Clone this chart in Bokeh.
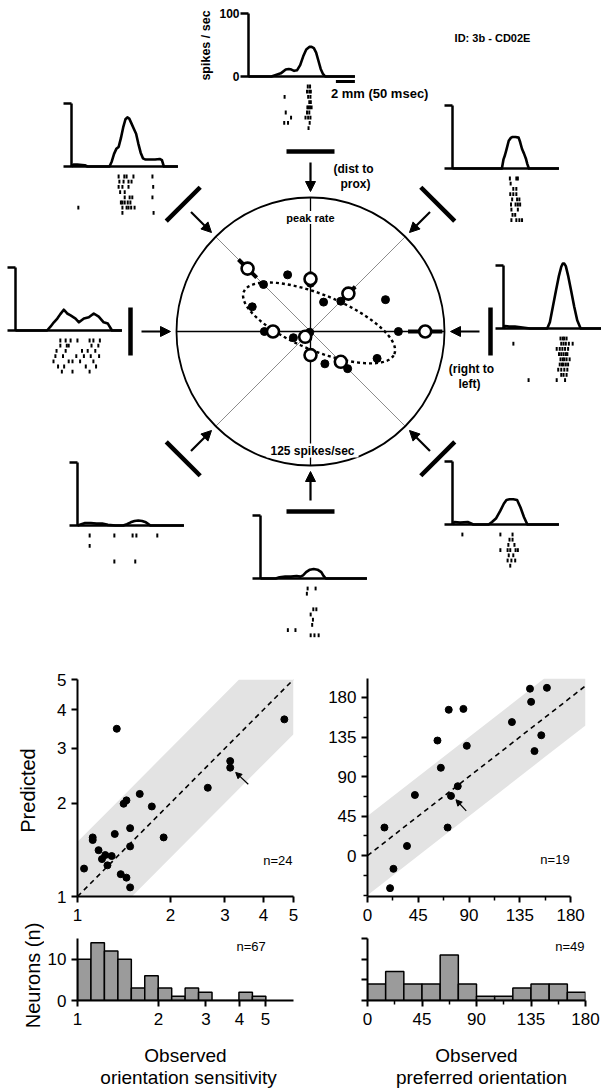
import math
from bokeh.plotting import figure
from bokeh.models import (Range1d, ColumnDataSource, Arrow, NormalHead, Label,
                          FixedTicker, PrintfTickFormatter)
from bokeh.layouts import column, row
from bokeh.embed import file_html
from bokeh.resources import INLINE
from bokeh.core.properties import value

FONT = "Liberation Sans"

# ======================= DATA =======================
# PSTHs (time after onset in ms, rate in spikes/sec) for the 8 stimulus directions
t_top = [0, 60, 70, 85, 98, 106, 113, 120, 128, 136, 144, 152, 160, 166, 172, 178, 184, 190, 196, 202, 280]
r_top = [0, 0, 2, 5, 11, 12, 11, 9, 10, 18, 32, 43, 47, 47, 45, 38, 25, 12, 4, 0, 0]
t_ur = [0, 130, 134, 138, 142, 148, 154, 158, 166, 174, 178, 183, 188, 193, 197, 201, 280]
r_ur = [0, 0, 14, 21, 30, 44, 49, 50, 50, 49, 42, 31, 24, 16, 7, 0, 0]
t_r = [0, 4, 15, 30, 45, 70, 115, 122, 130, 138, 146, 152, 156, 160, 164, 170, 178, 186, 194, 203, 280]
r_r = [0, 4, 3, 3, 2, 0, 0, 10, 35, 60, 84, 98, 103, 103, 99, 84, 60, 35, 13, 0, 0]
t_lr = [0, 5, 20, 40, 55, 95, 104, 115, 126, 135, 142, 150, 160, 170, 179, 188, 197, 280]
r_lr = [0, 4, 3, 4, 0, 0, 4, 10, 22, 33, 39, 40, 40, 39, 27, 12, 0, 0]
t_b = [0, 40, 50, 65, 80, 95, 105, 112, 120, 130, 140, 150, 160, 166, 172, 280]
r_b = [0, 0, 2, 3, 3, 4, 3, 5, 10, 14, 15, 14, 10, 4, 0, 0]
t_ll = [0, 10, 20, 35, 50, 65, 80, 100, 120, 130, 140, 150, 160, 170, 180, 192, 280]
r_ll = [0, 2, 4, 4, 3, 3, 1, 0, 0, 2, 5, 7, 8, 7, 5, 0, 0]
t_l = [0, 83, 92, 101, 110, 118, 127, 136, 145, 158, 167, 180, 193, 206, 219, 232, 243, 254, 280]
r_l = [0, 0, 6, 13, 19, 26, 33, 27, 24, 19, 13, 19, 21, 27, 22, 13, 11, 0, 0]
t_ul = [0, 5, 15, 35, 42, 100, 106, 112, 118, 124, 130, 136, 142, 147, 152, 158, 164, 170, 176, 182, 188, 195, 205, 220, 232, 238, 243, 280]
r_ul = [0, 3, 3, 2, 0, 0, 8, 20, 28, 31, 45, 62, 75, 78, 76, 68, 60, 52, 36, 22, 13, 11, 11, 11, 12, 10, 0, 0]

# Rasters: spike times (ms) per trial
ras_top = [[156, 162], [154, 160, 164], [95, 157, 163], [160, 164], [155, 158, 162, 166],
           [98, 154, 160], [112, 150, 157, 163], [94, 104, 161], [158]]
ras_ur = [[151, 168, 172], [153], [160, 168], [152, 160, 168], [157, 170, 176],
          [154, 166, 172, 178], [155, 172], [158, 165], [155, 168, 176, 183]]
ras_r = [[150, 156, 160, 166], [26, 152, 158, 164, 172, 182], [140, 148, 155, 162, 170],
         [146, 152, 158, 164, 168], [150, 156, 160, 166, 174], [148, 154, 158, 164, 170],
         [144, 152, 160, 168], [152, 158, 166], [66, 140, 162]]
ras_lr = [[26, 126, 158], [150, 158], [147, 163], [126, 145, 152, 166, 172], [148, 160],
          [145, 155, 165], [152]]
ras_b = [[124, 145], [122], [], [], [139, 147], [132], [138], [136], [72, 92], [132, 142, 153]]
ras_ll = [[32, 97, 145, 155, 210], [], [32], [], [], [97, 152]]
ras_l = [[118, 132, 145, 163, 195, 205, 222], [118, 135, 140, 200, 218], [108, 132, 175, 190, 210],
         [105, 125, 160, 180, 198, 220], [100, 140, 150, 170, 205], [112, 128, 185, 212],
         [122, 150, 195]]
ras_ul = [[124, 139, 145, 163, 213], [126, 137, 150, 158], [124, 134, 150, 215], [128, 140],
          [140, 153, 160, 213], [130, 134, 140, 148, 155], [18, 134, 145, 150, 157, 166], [134, 216]]

# Polar summary (spikes/sec); stimulus directions in degrees (0 = right, 90 = top)
stim_dirs = [90, 45, 0, -45, -90, -135, 180, 135]
peak_rate = [49, 50, 107, 40, 22, 7, 35, 83]
peak_err = [7, 9, 16, 3, 3, 3, 4, 12]
dot_angle = [90, 45, 0, -45, -90, 180, 135, -135, 112, 66, 23, 157, -66, -22, 200]
dot_rate = [45, 40, 82, 49, 20, 43, 62, 1, 57, 30, 76, 59, 33, 67, 17]
ell_center = [8, 8]       # spikes/sec offset from origin
ell_a, ell_b, ell_tilt = 76, 26, -22.5
polar_max = 125

# Scatter: orientation sensitivity (log axes)
obs_sens = [1.05, 1.12, 1.12, 1.17, 1.20, 1.23, 1.25, 1.29, 1.32, 1.34, 1.38, 1.41,
            1.44, 1.44, 1.48, 1.48, 1.48, 1.59, 1.74, 1.90, 2.64, 3.12, 3.12, 4.67]
pred_sens = [1.23, 1.55, 1.52, 1.41, 1.32, 1.36, 1.26, 1.35, 1.59, 3.47, 1.18, 1.99,
             2.04, 1.15, 1.07, 1.45, 1.66, 2.14, 1.95, 1.55, 2.24, 2.73, 2.60, 3.72]
sens_band_factor = 1.5
# Scatter: preferred orientation (deg)
obs_ori = [15, 23, 20, 35, 42, 62, 65, 71, 72, 74, 80, 85, 88, 128, 144, 145, 148, 154, 159]
pred_ori = [32, -15, -37, 11, 69, 131, 100, 32, 166, 68, 79, 167, 125, 152, 190, 175, 119, 137, 191]
ori_band = 45

# Histograms
sens_edges = [1.0, 1.122, 1.259, 1.413, 1.585, 1.778, 1.995, 2.239, 2.512, 2.818,
              3.162, 3.548, 3.981, 4.467, 5.012]
sens_counts = [10, 14, 12, 10, 3, 6, 3, 1, 3, 2, 0, 0, 2, 1]
ori_edges = [0, 15, 30, 45, 60, 75, 90, 105, 120, 135, 150, 165, 180]
ori_counts = [4, 7, 4, 4, 11, 4, 1, 1, 3, 4, 4, 2]

# ======================= LAYOUT CONSTANTS =======================
W, H_TOP = 601, 650
PX_MS, PX_RATE, T_MAX = 0.38, 0.63, 280
ROW0, ROW_SP, TICK_H = 10, 5.2, 3.8
CX, CY, R_PX = 310, 331, 134
K = R_PX / polar_max
psth_origin = {"top": (248, 76), "ur": (452, 168), "r": (503, 328), "lr": (452, 524),
               "b": (260, 578), "ll": (77, 525), "l": (15, 330), "ul": (71, 166)}
panels = [("top", t_top, r_top, ras_top), ("ur", t_ur, r_ur, ras_ur), ("r", t_r, r_r, ras_r),
          ("lr", t_lr, r_lr, ras_lr), ("b", t_b, r_b, ras_b), ("ll", t_ll, r_ll, ras_ll),
          ("l", t_l, r_l, ras_l), ("ul", t_ul, r_ul, ras_ul)]


def pol(a_deg, r_spk):
    a = math.radians(a_deg)
    return CX + K * r_spk * math.cos(a), CY - K * r_spk * math.sin(a)


def polpx(a_deg, r_px):
    a = math.radians(a_deg)
    return CX + r_px * math.cos(a), CY - r_px * math.sin(a)


# ======================= TOP DIAGRAM =======================
top = figure(width=W, height=H_TOP, x_range=Range1d(0, W), y_range=Range1d(H_TOP, 0),
             x_axis_location=None, y_axis_location=None, toolbar_location=None,
             output_backend="svg", min_border=0)
top.grid.visible = False
top.outline_line_color = None

cx_, cy_ = [], []
ax0, ay0, ax1, ay1 = [], [], [], []
rx, ry0, ry1 = [], [], []
for name, t, r, ras in panels:
    ox, oy = psth_origin[name]
    cx_.append([ox + tt * PX_MS for tt in t])
    cy_.append([oy - rr * PX_RATE for rr in r])
    ytop = oy - 100 * PX_RATE
    ax0 += [ox, ox - 8, ox - 8]
    ay0 += [oy, ytop, oy]
    ax1 += [ox, ox, ox + T_MAX * PX_MS]
    ay1 += [ytop, ytop, oy]
    for i, trial in enumerate(ras):
        yy = oy + ROW0 + i * ROW_SP
        for s in trial:
            rx.append(ox + s * PX_MS)
            ry0.append(yy - TICK_H / 2)
            ry1.append(yy + TICK_H / 2)

top.segment(ax0, ay0, ax1, ay1, line_color="black", line_width=2.5)
top.multi_line(cx_, cy_, line_color="black", line_width=2.6, line_join="round")
top.segment(rx, ry0, rx, ry1, line_color="black", line_width=2)

ox, oy = psth_origin["top"]
sb_x1 = ox + T_MAX * PX_MS
top.segment([sb_x1 - 50 * PX_MS], [oy + 5], [sb_x1], [oy + 5], line_color="black", line_width=3)
top.text(x=[ox - 9, ox - 9], y=[oy - 100 * PX_RATE, oy], text=["100", "0"],
         text_font=value(FONT), text_font_style="bold", text_font_size="12px",
         text_align="right", text_baseline="middle")
top.text(x=[ox - 43], y=[oy - 31], text=["spikes / sec"], angle=math.pi / 2,
         text_font=value(FONT), text_font_style="bold", text_font_size="12.5px",
         text_align="center", text_baseline="middle")
top.text(x=[sb_x1 - 24], y=[oy + 17], text=["2 mm (50 msec)"],
         text_font=value(FONT), text_font_style="bold", text_font_size="13px",
         text_align="left", text_baseline="middle")
top.text(x=[492], y=[37], text=["ID: 3b - CD02E"],
         text_font=value(FONT), text_font_style="bold", text_font_size="11px",
         text_align="center", text_baseline="middle")

# polar reference lines
gx0, gy0, gx1, gy1 = [], [], [], []
for a in (45, 135):
    p0 = polpx(a, R_PX); p1 = polpx(a + 180, R_PX)
    gx0.append(p0[0]); gy0.append(p0[1]); gx1.append(p1[0]); gy1.append(p1[1])
top.segment(gx0, gy0, gx1, gy1, line_color="#8c8c8c", line_width=1)
bx0, by0, bx1, by1 = [], [], [], []
for a in (0, 90):
    p0 = polpx(a, R_PX); p1 = polpx(a + 180, R_PX)
    bx0.append(p0[0]); by0.append(p0[1]); bx1.append(p1[0]); by1.append(p1[1])
top.segment(bx0, by0, bx1, by1, line_color="black", line_width=1.3)
top.circle(x=[CX], y=[CY], radius=R_PX, fill_color=None, line_color="black", line_width=1.8)

# stimulus bars and arrows
sx0, sy0, sx1, sy1 = [], [], [], []
arr = dict(x0=[], y0=[], x1=[], y1=[])
for a in stim_dirs:
    c = polpx(a, 180)
    ar = math.radians(a)
    dx, dy = 24 * math.sin(ar), 24 * math.cos(ar)
    sx0.append(c[0] - dx); sy0.append(c[1] - dy); sx1.append(c[0] + dx); sy1.append(c[1] + dy)
    s = polpx(a, 169); e = polpx(a, 140)
    arr["x0"].append(s[0]); arr["y0"].append(s[1]); arr["x1"].append(e[0]); arr["y1"].append(e[1])
top.segment(sx0, sy0, sx1, sy1, line_color="black", line_width=4.5)
top.add_layout(Arrow(end=NormalHead(size=10, fill_color="black", line_color="black"),
                     x_start="x0", y_start="y0", x_end="x1", y_end="y1",
                     source=ColumnDataSource(arr), line_width=2.2, line_color="black"))

# model ellipse
ex, ey = [], []
tr = math.radians(ell_tilt)
for k in range(0, 361, 3):
    s = math.radians(k)
    u, v = ell_a * math.cos(s), ell_b * math.sin(s)
    xx = ell_center[0] + u * math.cos(tr) - v * math.sin(tr)
    yy = ell_center[1] + u * math.sin(tr) + v * math.cos(tr)
    ex.append(CX + K * xx); ey.append(CY - K * yy)
top.line(ex, ey, line_color="black", line_width=2.4, line_dash="3 3")

# error bars, dots, open circles
ebx0, eby0, ebx1, eby1, ocx, ocy = [], [], [], [], [], []
for a, rr, ee in zip(stim_dirs, peak_rate, peak_err):
    p0 = pol(a, rr - ee); p1 = pol(a, rr + ee); pc = pol(a, rr)
    ebx0.append(p0[0]); eby0.append(p0[1]); ebx1.append(p1[0]); eby1.append(p1[1])
    ocx.append(pc[0]); ocy.append(pc[1])
top.segment(ebx0, eby0, ebx1, eby1, line_color="black", line_width=4)
dx_, dy_ = [], []
for a, rr in zip(dot_angle, dot_rate):
    pc = pol(a, rr); dx_.append(pc[0]); dy_.append(pc[1])
top.scatter(dx_, dy_, size=8, marker="circle", fill_color="black", line_color="black")
top.scatter(ocx, ocy, size=12, marker="circle", fill_color="white", line_color="black", line_width=2.6)

# polar labels
top.rect(x=[CX, CX + 2], y=[217, 450], width=[54, 92], height=[13, 14],
         fill_color="white", line_color=None)
top.text(x=[CX], y=[217], text=["peak rate"], text_font=value(FONT), text_font_style="bold",
         text_font_size="11px", text_align="center", text_baseline="middle")
top.text(x=[CX + 2], y=[450], text=["125 spikes/sec"], text_font=value(FONT), text_font_style="bold",
         text_font_size="12px", text_align="center", text_baseline="middle")
top.text(x=[353, 355, 471, 469], y=[168, 183, 368, 383],
         text=["(dist to", "prox)", "(right to", "left)"], text_font=value(FONT),
         text_font_style="bold", text_font_size="12px", text_align="center", text_baseline="middle")


# ======================= BOTTOM PLOTS =======================
def style(p):
    p.grid.visible = False
    p.outline_line_color = None
    p.background_fill_color = "white"
    for ax in p.axis:
        ax.axis_line_width = 2
        ax.axis_line_color = "black"
        ax.major_tick_line_width = 2
        ax.minor_tick_line_width = 1.5
        ax.major_tick_out = 6
        ax.major_tick_in = 0
        ax.minor_tick_out = 4
        ax.minor_tick_in = 0
        ax.major_label_text_font = FONT
        ax.major_label_text_font_size = "17px"
        ax.major_label_text_color = "black"
    for ax in p.xaxis:
        ax.major_label_standoff = 6
    for ax in p.yaxis:
        ax.major_label_standoff = 5


def nlabel(x, y, txt):
    return Label(x=x, y=y, text=txt, text_align="right", text_baseline="middle",
                 text_font=FONT, text_font_size="13px", text_color="black", x_offset=-1)


LW = 44  # width of the y-title strip
ylab = figure(width=LW, height=385, x_range=Range1d(0, LW), y_range=Range1d(385, 0),
              x_axis_location=None, y_axis_location=None, toolbar_location=None,
              output_backend="svg", min_border=0)
ylab.grid.visible = False
ylab.outline_line_color = None
ylab.text(x=[27, 32], y=[140, 325], text=["Predicted", "Neurons (n)"], angle=math.pi / 2,
          text_font=value(FONT), text_font_size="20px", text_align="center", text_baseline="middle")

# --- left scatter
sc1 = figure(width=325 - LW, height=280, x_axis_type="log", y_axis_type="log",
             x_range=Range1d(1, 5), y_range=Range1d(1, 5),
             min_border_left=77 - LW, min_border_right=32, min_border_top=29, min_border_bottom=34,
             toolbar_location=None, output_backend="svg")
style(sc1)
bx = [1, sens_band_factor, 5 / sens_band_factor, 5]
sc1.varea(x=bx, y1=[max(v / sens_band_factor, 1) for v in bx],
          y2=[min(v * sens_band_factor, 5) for v in bx], fill_color="#e3e3e3")
sc1.line([1, 5], [1, 5], line_color="black", line_width=1.6, line_dash="5 4")
sc1.scatter(obs_sens, pred_sens, size=7, marker="circle", fill_color="black", line_color="black")
for ax in (sc1.xaxis[0], sc1.yaxis[0]):
    ax.ticker = FixedTicker(ticks=[1, 2, 3, 4, 5])
    ax.formatter = PrintfTickFormatter(format="%d")
sc1.add_layout(nlabel(5, 1.31, "n=24"))
sc1.add_layout(Arrow(end=NormalHead(size=6, fill_color="black", line_color="black"),
                     x_start=3.57, y_start=2.30, x_end=3.25, y_end=2.51, line_width=1.2))

# --- right scatter
sc2 = figure(width=276, height=280, x_range=Range1d(0, 193.2), y_range=Range1d(-46.5, 201.6),
             min_border_left=42, min_border_right=0, min_border_top=28, min_border_bottom=34,
             toolbar_location=None, output_backend="svg")
style(sc2)
sc2.xaxis.bounds = (0, 180)
ox2 = [0, 201.6 - ori_band, 193.2]
sc2.varea(x=ox2, y1=[v - ori_band for v in ox2], y2=[min(v + ori_band, 201.6) for v in ox2],
          fill_color="#e3e3e3")
sc2.line([0, 193.2], [0, 193.2], line_color="black", line_width=1.6, line_dash="5 4")
sc2.scatter(obs_ori, pred_ori, size=7, marker="circle", fill_color="black", line_color="black")
sc2.xaxis.ticker = FixedTicker(ticks=[0, 45, 90, 135, 180], minor_ticks=[22.5, 67.5, 112.5, 157.5])
sc2.yaxis.ticker = FixedTicker(ticks=[0, 45, 90, 135, 180],
                               minor_ticks=[-45, -22.5, 22.5, 67.5, 112.5, 157.5])
sc2.add_layout(nlabel(180, -4, "n=19"))
sc2.add_layout(Arrow(end=NormalHead(size=6, fill_color="black", line_color="black"),
                     x_start=87.5, y_start=51, x_end=78.4, y_end=63.6, line_width=1.2))

# --- left histogram
h1 = figure(width=325 - LW, height=105, x_axis_type="log", x_range=Range1d(1, 6.35), y_range=Range1d(0, 15),
            min_border_left=77 - LW, min_border_right=0, min_border_top=8, min_border_bottom=35,
            toolbar_location=None, output_backend="svg")
style(h1)
h1.quad(left=sens_edges[:-1], right=sens_edges[1:], bottom=0, top=sens_counts,
        fill_color="#9b9b9b", line_color="black", line_width=1.5)
h1.xaxis.ticker = FixedTicker(ticks=[1, 2, 3, 4, 5])
h1.xaxis.formatter = PrintfTickFormatter(format="%d")
h1.yaxis.ticker = FixedTicker(ticks=[0, 10])
h1.add_layout(nlabel(5.05, 13, "n=67"))

# --- right histogram
h2 = figure(width=276, height=105, x_range=Range1d(0, 180), y_range=Range1d(0, 15),
            min_border_left=42, min_border_right=16, min_border_top=8, min_border_bottom=35,
            toolbar_location=None, output_backend="svg")
style(h2)
h2.quad(left=ori_edges[:-1], right=ori_edges[1:], bottom=0, top=ori_counts,
        fill_color="#9b9b9b", line_color="black", line_width=1.5)
h2.xaxis.ticker = FixedTicker(ticks=[0, 45, 90, 135, 180], minor_ticks=[22.5, 67.5, 112.5, 157.5])
h2.yaxis.ticker = FixedTicker(ticks=[0, 5, 10, 15])
h2.yaxis.major_label_overrides = {0: "", 5: "", 10: "", 15: ""}
h2.add_layout(nlabel(180, 13, "n=49"))

# --- x titles
lab = figure(width=W, height=54, x_range=Range1d(0, W), y_range=Range1d(54, 0),
             x_axis_location=None, y_axis_location=None, toolbar_location=None,
             output_backend="svg", min_border=0)
lab.grid.visible = False
lab.outline_line_color = None
lab.text(x=[185, 188, 476, 481], y=[20, 42, 20, 42],
         text=["Observed", "orientation sensitivity", "Observed", "preferred orientation"],
         text_font=value(FONT), text_font_size="19px", text_align="center", text_baseline="middle")

bottom = row(ylab, column(sc1, h1), column(sc2, h2))
layout = column(top, bottom, lab)
open("out.html", "w").write(file_html(layout, INLINE))
